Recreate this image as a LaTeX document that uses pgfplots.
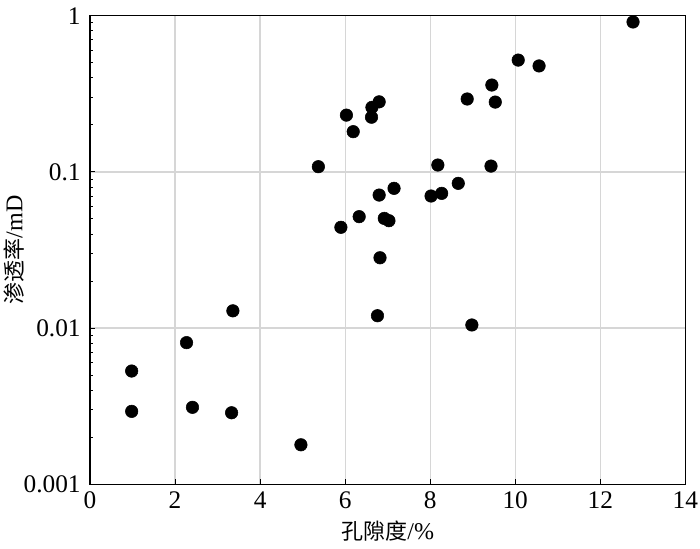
\documentclass[border=0pt]{standalone}
\usepackage{pgfplots}
\pgfplotsset{compat=1.18}
\usepackage{fontspec}
\setmainfont{Liberation Serif}
\newfontfamily\cjk{Noto Sans CJK SC}
\usetikzlibrary{calc}
\pgfplotstableread{
x y
12.77 0.912
10.07 0.520
10.56 0.477
9.45 0.360
9.53 0.280
8.87 0.293
6.03 0.231
6.19 0.181
6.63 0.259
6.80 0.281
6.62 0.224
5.37 0.108
5.90 0.0442
6.80 0.0711
7.15 0.0785
6.33 0.0517
6.92 0.0504
7.03 0.0487
6.82 0.0282
8.18 0.1107
9.43 0.109
8.02 0.0701
8.27 0.0729
8.66 0.0845
6.76 0.0120
8.98 0.01047
3.36 0.0129
2.27 0.00807
0.98 0.00531
0.98 0.00293
2.41 0.00311
3.33 0.00287
4.96 0.00179
}\datatable
\begin{document}
\begin{tikzpicture}
\begin{axis}[
  name=ax,
  scale only axis,
  width=446.5pt, height=351.4pt,
  ymode=log,
  xmin=0, xmax=14, ymin=0.001, ymax=1,
  xtick={0,2,4,6,8,10,12,14},
  xticklabels={0,2,4,6,8,10,12,14},
  ytick={0.001,0.01,0.1,1},
  yticklabels={0.001,0.01,0.1,1},
  tick pos=left,
  tick align=inside,
  major tick length=4pt,
  minor tick length=2.6pt,
  every tick/.style={black, line width=0.7pt},
  axis line style={black, line width=1pt},
  grid=major,
  major grid style={draw=black!16, line width=0.9pt},
  every tick label/.append style={font=\fontsize{19}{22}\selectfont},
  xticklabel style={yshift=-1.8pt, font=\fontsize{19}{22}\selectfont},
  yticklabel style={xshift=-3.5pt, font=\fontsize{19}{22}\selectfont},
  xlabel={{\fontsize{16.5}{20}\selectfont\cjk 孔隙度}\fontsize{18}{22}\selectfont/\%},
  ylabel={{\fontsize{16.5}{20}\selectfont\cjk 渗透率}\fontsize{18}{22}\selectfont/mD},
  xlabel style={at={(axis description cs:0.5,0)}, anchor=center, yshift=-35pt},
  ylabel style={at={(axis description cs:0,0.5)}, anchor=center, yshift=57pt},
  clip=false,
]
\addplot[only marks, mark=*, mark size=4.7pt, mark options={fill=black, draw=black}] table[x=x, y=y] {\datatable};
\end{axis}
\pgfresetboundingbox
\path ($(ax.south west)+(-67.5pt,-48.5pt)$) rectangle ($(ax.north east)+(11pt,11.8pt)$);
\end{tikzpicture}
\end{document}
